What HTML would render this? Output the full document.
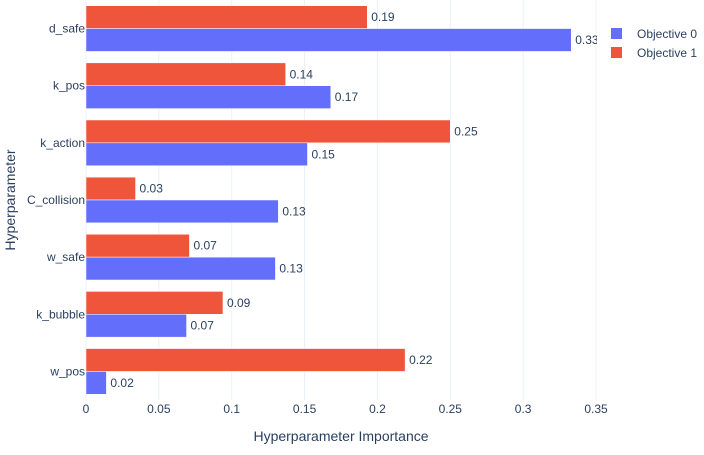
<!DOCTYPE html>
<html><head><meta charset="utf-8"><style>
body{margin:0;background:#fff;font-family:"Liberation Sans",Arial,sans-serif;}
svg text{font-family:"Liberation Sans",Arial,sans-serif;}
</style></head><body>
<svg id="c" width="704" height="450" xmlns="http://www.w3.org/2000/svg"></svg>
<script>
const categories=["d_safe","k_pos","k_action","C_collision","w_safe","k_bubble","w_pos"];
const obj0=[0.333,0.168,0.152,0.132,0.130,0.069,0.014];
const obj1=[0.193,0.137,0.250,0.034,0.071,0.094,0.219];
const obj0Labels=["0.33","0.17","0.15","0.13","0.13","0.07","0.02"];
const obj1Labels=["0.19","0.14","0.25","0.03","0.07","0.09","0.22"];
const xTicks=[0,0.05,0.1,0.15,0.2,0.25,0.3,0.35];
const xTickLabels=["0","0.05","0.1","0.15","0.2","0.25","0.3","0.35"];
const NS="http://www.w3.org/2000/svg";
const svg=document.getElementById('c');
const L=86,R=596,T=0,B=400,xmax=0.35;
const x=v=>L+v/xmax*(R-L);
const band=(B-T)/categories.length;
const yc=i=>T+band*(i+0.5);
function mk(tag,attrs,parent){const e=document.createElementNS(NS,tag);for(const k in attrs)e.setAttribute(k,attrs[k]);(parent||svg).appendChild(e);return e;}
const defs=mk('defs',{});
const cp=mk('clipPath',{id:'clip'},defs);
mk('rect',{x:L,y:T,width:R-L+1,height:B-T},cp);
const grid=mk('g',{});


xTicks.forEach((t,i)=>{
  const ln=mk('line',{x1:x(t),x2:x(t),y1:T,y2:B,stroke:'#ebf0f8','stroke-width':1},grid);
  
  
  const tx=mk('text',{x:x(t),y:413,'text-anchor':'middle','font-size':12,fill:'#2a3f5f'});
  tx.textContent=xTickLabels[i];
  
  
});
const bars=mk('g',{'clip-path':'url(#clip)'});


const bw=band*0.8/2;
categories.forEach((c,i)=>{
  const cy=yc(i);
  const r1=mk('rect',{x:L,y:cy-bw,width:x(obj1[i])-L,height:bw,fill:'#ef553b',stroke:'#fff','stroke-width':0.5},bars);
  
  
  const r0=mk('rect',{x:L,y:cy,width:x(obj0[i])-L,height:bw,fill:'#636efa',stroke:'#fff','stroke-width':0.5},bars);
  
  
  const t1=mk('text',{x:x(obj1[i])+4,y:cy-bw/2+4,'font-size':12,fill:'#2a3f5f'},bars);
  t1.textContent=obj1Labels[i];
  
  
  const t0=mk('text',{x:x(obj0[i])+4,y:cy+bw/2+4,'font-size':12,fill:'#2a3f5f'},bars);
  t0.textContent=obj0Labels[i];
  
  
  const yl=mk('text',{x:L-1,y:cy+4,'text-anchor':'end','font-size':12,fill:'#2a3f5f'});
  yl.textContent=c;
  
  
});
const xt=mk('text',{x:(L+R)/2,y:441,'text-anchor':'middle','font-size':14,fill:'#2a3f5f'});
xt.textContent='Hyperparameter Importance';


const yt=mk('text',{x:15,y:200,'text-anchor':'middle','font-size':14,fill:'#2a3f5f',transform:'rotate(-90 15 200)'});
yt.textContent='Hyperparameter';


const lg=mk('g',{});


[['Objective 0','#636efa',34],['Objective 1','#ef553b',53]].forEach(([n,col,yy])=>{
  const e=mk('g',{},lg);
  
  
  mk('rect',{x:611,y:yy-6,width:11,height:11,fill:col},e);
  const t=mk('text',{x:637,y:yy+4,'font-size':12,fill:'#2a3f5f'},e);
  t.textContent=n;
});
</script>
</body></html>
